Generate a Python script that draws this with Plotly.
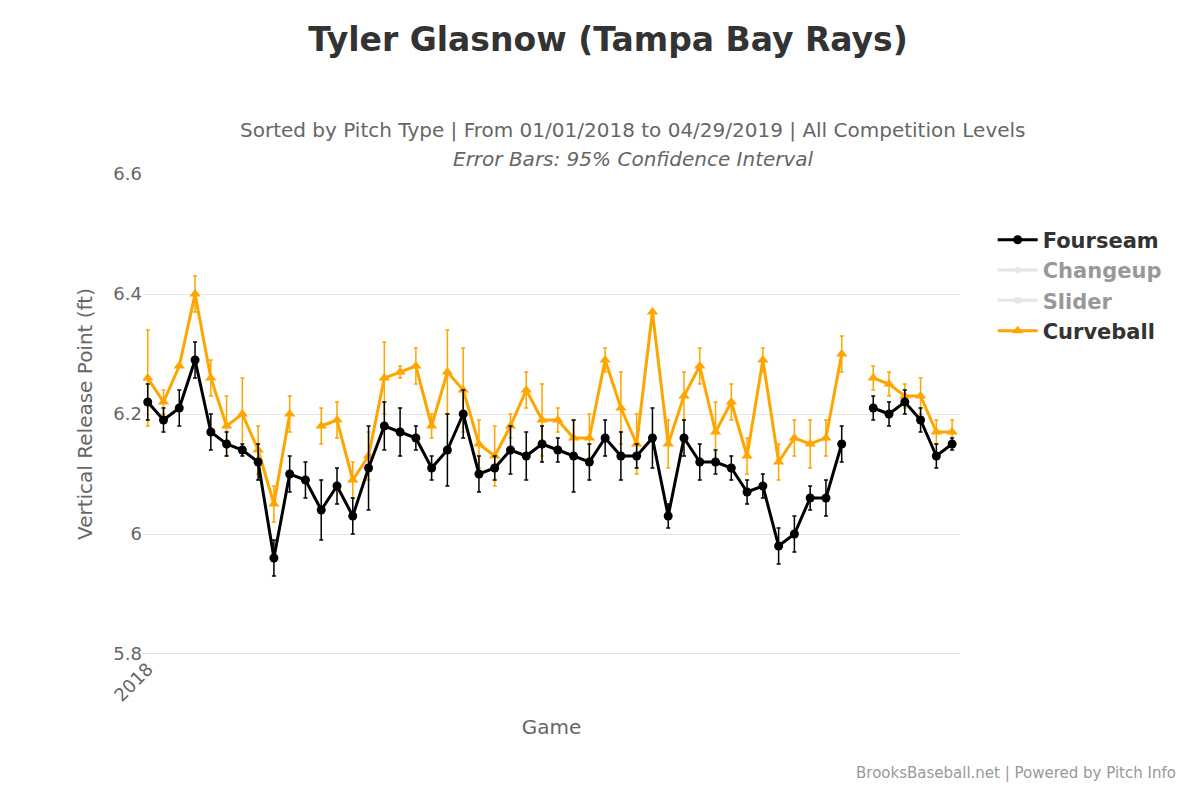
import plotly.graph_objects as go

games = list(range(52))

fourseam = [6.22, 6.19, 6.21, 6.29, 6.17, 6.15, 6.14, 6.12, 5.96, 6.10, 6.09, 6.04, 6.08, 6.03,
            6.11, 6.18, 6.17, 6.16, 6.11, 6.14, 6.20, 6.10, 6.11, 6.14, 6.13, 6.15, 6.14, 6.13,
            6.12, 6.16, 6.13, 6.13, 6.16, 6.03, 6.16, 6.12, 6.12, 6.11, 6.07, 6.08, 5.98, 6.00,
            6.06, 6.06, 6.15, None, 6.21, 6.20, 6.22, 6.19, 6.13, 6.15]
fourseam_err = [0.03, 0.02, 0.03, 0.03, 0.03, 0.02, 0.01, 0.03, 0.03, 0.03, 0.03, 0.05, 0.03, 0.03,
                0.07, 0.04, 0.04, 0.02, 0.02, 0.06, 0.04, 0.03, 0.02, 0.04, 0.04, 0.03, 0.02, 0.06,
                0.03, 0.03, 0.04, 0.02, 0.05, 0.02, 0.03, 0.03, 0.02, 0.02, 0.02, 0.02, 0.03, 0.03,
                0.02, 0.03, 0.03, None, 0.02, 0.02, 0.02, 0.02, 0.02, 0.01]

curveball = [6.26, 6.22, 6.28, 6.40, 6.26, 6.18, 6.20, 6.14, 6.05, 6.20, None, 6.18, 6.19, 6.09,
             6.13, 6.26, 6.27, 6.28, 6.18, 6.27, 6.24, 6.15, 6.13, 6.18, 6.24, 6.19, 6.19, 6.16,
             6.16, 6.29, 6.21, 6.15, 6.37, 6.15, 6.23, 6.28, 6.17, 6.22, 6.13, 6.29, 6.12, 6.16,
             6.15, 6.16, 6.30, None, 6.26, 6.25, 6.23, 6.23, 6.17, 6.17]
curveball_err = [0.08, 0.02, 0.0, 0.03, 0.03, 0.05, 0.06, 0.04, 0.03, 0.03, None, 0.03, 0.03, 0.03,
                 0.04, 0.06, 0.01, 0.03, 0.02, 0.07, 0.07, 0.04, 0.05, 0.02, 0.03, 0.06, 0.02, 0.03,
                 0.04, 0.02, 0.06, 0.05, 0.0, 0.04, 0.04, 0.03, 0.05, 0.03, 0.03, 0.02, 0.03, 0.03,
                 0.04, 0.03, 0.03, None, 0.02, 0.02, 0.02, 0.03, 0.02, 0.02]

x_tickvals = [0]
x_ticktext = ['2018']

fig = go.Figure()
# curveball drawn first so fourseam sits on top
fig.add_trace(go.Scatter(
    x=games, y=curveball, name='<b>Curveball</b>', mode='lines+markers',
    line=dict(color='#FFA500', width=3),
    marker=dict(symbol='triangle-up', size=10, color='#FFA500'),
    error_y=dict(type='data', array=curveball_err, color='#FFA500', thickness=1.5, width=2),
    legendrank=4))
fig.add_trace(go.Scatter(
    x=games, y=fourseam, name='<b>Fourseam</b>', mode='lines+markers',
    line=dict(color='black', width=3),
    marker=dict(symbol='circle', size=9, color='black'),
    error_y=dict(type='data', array=fourseam_err, color='black', thickness=1.5, width=2),
    legendrank=1))
fig.add_trace(go.Scatter(x=games, y=fourseam, name='<b>Changeup</b>', mode='lines+markers',
                         line=dict(color='#cccccc', width=3), marker=dict(symbol='diamond', color='#cccccc'),
                         visible='legendonly', legendrank=2))
fig.add_trace(go.Scatter(x=games, y=fourseam, name='<b>Slider</b>', mode='lines+markers',
                         line=dict(color='#cccccc', width=3), marker=dict(symbol='square', color='#cccccc'),
                         visible='legendonly', legendrank=3))

fig.update_layout(
    width=1200, height=800,
    paper_bgcolor='white', plot_bgcolor='white',
    font=dict(family='DejaVu Sans', color='#666666'),
    title=dict(text='<b>Tyler Glasnow (Tampa Bay Rays)</b>', x=0.5, xanchor='center', y=0.975,
               font=dict(size=33, color='#333333')),
    margin=dict(l=135, r=248, t=166, b=154, autoexpand=False),
    showlegend=True,
    legend=dict(x=1.04, y=0.905, xanchor='left', yanchor='top',
                font=dict(size=21, color='#333333', family='DejaVu Sans'), tracegroupgap=8,
                itemwidth=40),
    xaxis=dict(range=[-0.3, 51.5], tickvals=x_tickvals, ticktext=x_ticktext, tickangle=-45,
               showgrid=False, zeroline=False, tickfont=dict(size=18),
               title=dict(text='Game', font=dict(size=20))),
    yaxis=dict(range=[5.8, 6.6], tickvals=[5.8, 6.0, 6.2, 6.4, 6.6],
               ticktext=['5.8', '6', '6.2', '6.4', '6.6'], gridcolor='#e6e6e6', zeroline=False,
               tickfont=dict(size=18), showline=False,
               title=dict(text='Vertical Release Point (ft)', font=dict(size=20))),
    annotations=[
        dict(text='Sorted by Pitch Type | From 01/01/2018 to 04/29/2019 | All Competition Levels',
             xref='paper', yref='paper', x=0.6, y=1.12, xanchor='center', showarrow=False,
             font=dict(size=20, color='#666666')),
        dict(text='<i>Error Bars: 95% Confidence Interval</i>',
             xref='paper', yref='paper', x=0.6, y=1.06, xanchor='center', showarrow=False,
             font=dict(size=20, color='#666666')),
        dict(text='BrooksBaseball.net | Powered by Pitch Info', xref='paper', yref='paper',
             x=1.0, y=-0.27, xanchor='right', xshift=218, showarrow=False,
             font=dict(size=15, color='#999999')),
    ],
)
fig.add_shape(type='line', xref='paper', yref='y', x0=0, x1=1, y0=5.8, y1=5.8,
              line=dict(color='#ccd6eb', width=1.5))

fig.write_html("out.html")
